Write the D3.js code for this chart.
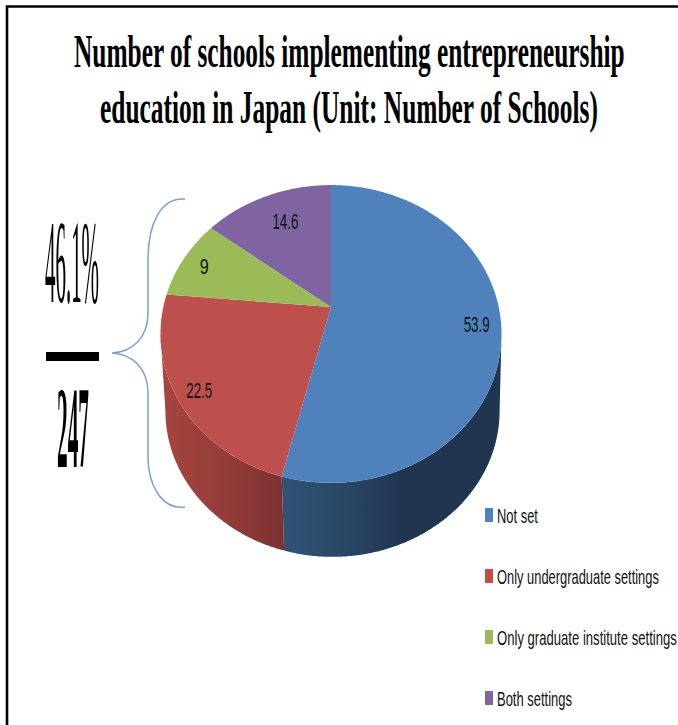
<!DOCTYPE html>
<html>
<head>
<meta charset="utf-8">
<script src="https://cdn.jsdelivr.net/npm/d3@7"></script>
<style>
html, body { margin: 0; padding: 0; background: #fff; }
svg { display: block; }
</style>
</head>
<body>
<svg id="chart" width="678" height="725"></svg>
<script>
// Survey shares
const categories = ["Not set", "Only undergraduate settings", "Only graduate institute settings", "Both settings"];
const shares = [53.9, 22.5, 9, 14.6];
const sliceColors = ["#4f81bd", "#bd504d", "#9bbb59", "#8064a2"];
const titleLines = ["Number of schools implementing entrepreneurship", "education in Japan (Unit: Number of Schools)"];
const bracketShare = "46.1%";
const bracketCount = "247";

const svg = d3.select("#chart");
const defs = svg.append("defs");
const SERIF = "'Liberation Serif', serif";
const SANS = "'Liberation Sans', sans-serif";

// Text squeezed horizontally to a fixed width, as in the stretched chart
function fitted(parent, str, x, y, width, size, family, weight, fill) {
  const t = parent.append("text")
    .attr("font-family", family).attr("font-size", size)
    .attr("font-weight", weight).attr("fill", fill || "#000")
    .text(str);
  const natural = t.node().getComputedTextLength();
  t.attr("transform", `translate(${x},${y}) scale(${width / natural},1)`);
  return t;
}

// Page frame: left and top rules only
svg.append("path").attr("d", "M7,725V6.5H678").attr("fill", "none").attr("stroke", "#000").attr("stroke-width", 2.6);

// Title
fitted(svg, titleLines[0], 74, 67, 551, 46, SERIF, "bold");
fitted(svg, titleLines[1], 100, 123, 498, 46, SERIF, "bold");

// Perspective projection of the unit disc onto the page
const apex = { x: 331, y: 307 };
const tilt = 0.181, radiusX = 167.7, radiusY = 144;
const scaleU = d3.scaleLinear().domain([-1, 1]).range([-radiusX, radiusX]);
const scaleV = d3.scaleLinear().domain([-1, 1]).range([radiusY, -radiusY]);

function project(angle, r) {
  const u = r * Math.sin(angle), v = r * Math.cos(angle), w = 1 + tilt * v;
  return [apex.x + scaleU(u) / w, apex.y + scaleV(v) / w];
}

// The lower rim of the cylinder: slightly narrower, shifted down
const rimShrink = 0.98, rimCenterY = 334, rimDrop = 77, rimShiftX = 1.5;
function projectRim(angle) {
  const [x, y] = project(angle, 1);
  return [apex.x + rimShiftX + rimShrink * (x - apex.x), rimCenterY + rimDrop + rimShrink * (y - rimCenterY)];
}

const arcs = d3.pie().sort(null).value(d => d)(shares);
const color = d3.scaleOrdinal().domain(categories).range(sliceColors);

function sampleAngles(a, b) {
  const n = Math.max(2, Math.ceil((b - a) / 0.01));
  return d3.range(n + 1).map(i => a + (b - a) * i / n);
}
const line = d3.line();

// Angles where the projected rim reaches its widest points; the wall's
// silhouette runs straight down from there
const tangentRight = Math.acos(-tilt);
const tangentLeft = 2 * Math.PI - tangentRight;

// Shaded side walls of the two slices that face the viewer
const wallShades = [
  { id: "wallBlue", from: 283, to: 500, stops: [[0, "#315375"], [0.28, "#2a4766"], [0.55, "#1f3550"], [1, "#1f3550"]] },
  { id: "wallRed", from: 160, to: 283, stops: [[0, "#a8443f"], [0.55, "#933c39"], [1, "#7c3131"]] }
];
wallShades.forEach(g => {
  const grad = defs.append("linearGradient").attr("id", g.id)
    .attr("gradientUnits", "userSpaceOnUse")
    .attr("x1", g.from).attr("x2", g.to).attr("y1", 0).attr("y2", 0);
  g.stops.forEach(s => grad.append("stop").attr("offset", s[0]).attr("stop-color", s[1]));
});

svg.append("g").selectAll("path").data(arcs.slice(0, 2)).join("path")
  .attr("fill", (d, i) => `url(#${wallShades[i].id})`)
  .attr("d", d => {
    const from = Math.max(d.startAngle, tangentRight);
    const to = Math.min(d.endAngle, tangentLeft);
    const angles = sampleAngles(from, to);
    const pts = angles.map(a => project(a, 1)).concat(angles.slice().reverse().map(projectRim));
    return line(pts) + "Z";
  });

// Top face
svg.append("g").selectAll("path").data(arcs).join("path")
  .attr("fill", (d, i) => color(categories[i]))
  .attr("d", d => {
    const rim = sampleAngles(d.startAngle, d.endAngle).map(a => project(a, 1));
    return line([[apex.x, apex.y]].concat(rim)) + "Z";
  });

// Value labels sit near the outer edge of each slice
const labelRadius = 0.87;
const labelNudge = [[-2, 2], [-1, 4], [2, 3], [11, 13]];
const valueLabels = svg.append("g");
arcs.forEach((d, i) => {
  const [x, y] = project((d.startAngle + d.endAngle) / 2, labelRadius);
  const width = String(d.value).length > 1 ? 26 : 9;
  fitted(valueLabels, String(d.value), x + labelNudge[i][0] - width / 2, y + labelNudge[i][1] + 7, width, 22, SANS, "normal", "#111");
});

// Curly bracket around the three non-blue slices
svg.append("path")
  .attr("fill", "none").attr("stroke", "#7aa2cf").attr("stroke-width", 1.5)
  .attr("d", "M185,199C160,197 148,225 148,260V313C148,338 132,352 112,353C132,354 148,368 148,393V457C148,482 160,510 185,507");

// Fraction beside the bracket
fitted(svg, bracketShare, 45, 302, 54, 118, SERIF, "normal");
svg.append("rect").attr("x", 46).attr("y", 352).attr("width", 53).attr("height", 9).attr("fill", "#000");
fitted(svg, bracketCount, 57, 467, 32, 116, SERIF, "bold");

// Legend
const legendSwatchTop = [508, 569, 630, 691];
const legendBaseline = [523, 584, 645, 706];
const legendWidth = [41, 162, 180, 75];
const legend = svg.append("g");
categories.forEach((c, i) => {
  legend.append("rect").attr("x", 485).attr("y", legendSwatchTop[i])
    .attr("width", 8).attr("height", 14).attr("fill", color(c));
  fitted(legend, c, 497, legendBaseline[i], legendWidth[i], 20, SANS, "normal", "#111");
});
</script>
</body>
</html>
